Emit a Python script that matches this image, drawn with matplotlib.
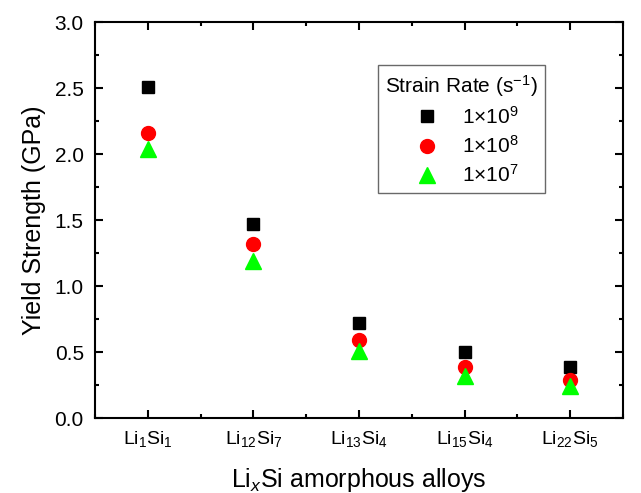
import matplotlib
matplotlib.use("Agg")
import matplotlib.pyplot as plt
from matplotlib.ticker import MultipleLocator

plt.rcParams['font.family'] = ['Liberation Sans', 'DejaVu Sans']
plt.rcParams['mathtext.fontset'] = 'custom'
plt.rcParams['mathtext.rm'] = 'Liberation Sans'
plt.rcParams['mathtext.it'] = 'Liberation Sans:italic'

alloys = ["Li$_1$Si$_1$", "Li$_{12}$Si$_7$", "Li$_{13}$Si$_4$", "Li$_{15}$Si$_4$", "Li$_{22}$Si$_5$"]
rate_1e9 = [2.51, 1.47, 0.72, 0.50, 0.39]
rate_1e8 = [2.16, 1.32, 0.59, 0.385, 0.29]
rate_1e7 = [2.04, 1.19, 0.51, 0.32, 0.245]
rate_labels = ["1$\\times$10$^9$", "1$\\times$10$^8$", "1$\\times$10$^7$"]

x = list(range(1, len(alloys) + 1))

fig = plt.figure(figsize=(6.41, 4.93), dpi=100)
ax = fig.add_axes([0.148, 0.152, 0.824, 0.803])

ax.plot(x, rate_1e9, linestyle='none', marker='s', color='black', markersize=9, label=rate_labels[0])
ax.plot(x, rate_1e8, linestyle='none', marker='o', color='red', markersize=10, label=rate_labels[1])
ax.plot(x, rate_1e7, linestyle='none', marker='^', color='#00ff00', markersize=11, label=rate_labels[2])

ax.set_xlim(0.5, 5.5)
ax.set_ylim(0, 3.0)
ax.set_xticks(x)
ax.set_xticklabels(alloys)
ax.xaxis.set_minor_locator(MultipleLocator(0.5))
ax.yaxis.set_major_locator(MultipleLocator(0.5))
ax.yaxis.set_minor_locator(MultipleLocator(0.25))
ax.tick_params(which='both', direction='in', top=True, right=True, width=1.5, pad=8)
ax.tick_params(axis='x', labelsize=14)
ax.tick_params(axis='y', labelsize=15)
ax.tick_params(which='major', length=6)
ax.tick_params(which='minor', length=3)
for s in ax.spines.values():
    s.set_linewidth(1.5)

ax.set_ylabel('Yield Strength (GPa)', fontsize=18, labelpad=6)
ax.set_xlabel('Li$_x$Si amorphous alloys', fontsize=18, labelpad=12)

leg = ax.legend(title='Strain Rate (s$^{-1}$)', loc='upper right', bbox_to_anchor=(0.852, 0.891),
                borderaxespad=0, fontsize=15, title_fontsize=15, frameon=True, fancybox=False,
                edgecolor='#444444', handletextpad=0.6, borderpad=0.35, labelspacing=0.35,
                handlelength=2.2)
leg.get_frame().set_linewidth(1.0)

fig.savefig('out.png', dpi=100)
